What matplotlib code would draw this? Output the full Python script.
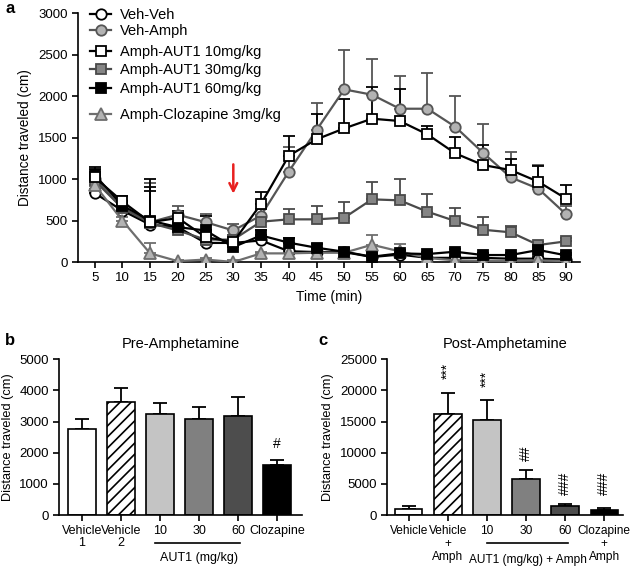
import numpy as np
import matplotlib
matplotlib.use("Agg")
from matplotlib import pyplot as plt

plt.rcParams['font.family'] = ['Liberation Sans', 'DejaVu Sans']
plt.rcParams['font.size'] = 9.5
plt.rcParams['hatch.linewidth'] = 1.2

# ---- panel a: time course ----
time = [5, 10, 15, 20, 25, 30, 35, 40, 45, 50, 55, 60, 65, 70, 75, 80, 85, 90]

veh_veh = [830, 620, 450, 420, 230, 230, 260, 130, 120, 120, 60, 90, 50, 50, 50, 40, 40, 30]
veh_veh_err = [50, 40, 400, 40, 40, 40, 40, 30, 30, 30, 20, 20, 20, 20, 20, 20, 20, 20]

veh_amph = [1000, 650, 480, 570, 480, 380, 560, 1090, 1590, 2080, 2016, 1847, 1847, 1630, 1317, 1020, 883, 575]
veh_amph_err = [80, 60, 470, 100, 100, 80, 80, 300, 330, 470, 430, 400, 430, 370, 350, 300, 280, 100]

aut10 = [1020, 730, 480, 530, 300, 240, 700, 1280, 1478, 1610, 1727, 1699, 1538, 1310, 1169, 1108, 967, 763]
aut10_err = [100, 60, 520, 80, 80, 60, 140, 240, 310, 350, 380, 390, 100, 200, 240, 130, 190, 170]

aut30 = [980, 650, 470, 380, 270, 270, 486, 514, 514, 534, 755, 743, 606, 494, 389, 358, 205, 249]
aut30_err = [80, 60, 60, 60, 60, 60, 80, 125, 157, 190, 210, 257, 217, 160, 150, 76, 40, 40]

aut60 = [1050, 680, 500, 420, 380, 180, 320, 233, 172, 124, 64, 104, 96, 124, 84, 84, 145, 80]
aut60_err = [100, 60, 400, 60, 180, 60, 60, 60, 40, 40, 40, 40, 30, 30, 30, 30, 30, 30]

cloz = [930, 500, 104, 10, 30, 0, 104, 104, 112, 112, 208, 128, 48, 20, 15, 15, 20, 10]
cloz_err = [60, 40, 130, 20, 20, 20, 20, 30, 30, 30, 120, 85, 20, 20, 20, 20, 20, 20]

# ---- panel b / c: bars ----
pre_means = [2762, 3638, 3233, 3094, 3180, 1616]
pre_err = [311, 450, 354, 385, 599, 150]
pre_labels = ["Vehicle\n1", "Vehicle\n2", "10", "30", "60", "Clozapine"]

post_means = [915, 16270, 15250, 5730, 1445, 800]
post_err = [530, 3370, 3160, 1440, 321, 370]
post_labels = ["Vehicle", "Vehicle\n+\nAmph", "10", "30", "60", "Clozapine\n+\nAmph"]
post_marks = ["", "***", "***", "##", "###", "###"]
post_mark_y = [0, 23120, 21840, 9950, 5140, 5140]

bar_colors = ["white", "white", "#c4c4c4", "#808080", "#4d4d4d", "black"]
bar_hatch = ["", "///", "", "", "", ""]

fig = plt.figure(figsize=(6.32, 5.67), dpi=100)

def clean(ax):
    ax.spines["top"].set_visible(False)
    ax.spines["right"].set_visible(False)
    ax.spines["left"].set_linewidth(1.2)
    ax.spines["bottom"].set_linewidth(1.2)
    ax.tick_params(direction="out", width=1.2, length=4)

# panel a
ax = fig.add_axes([0.1234, 0.5379, 0.7943, 0.4391])
clean(ax)
series = [
    (veh_amph, veh_amph_err, "Veh-Amph", "o", "#b3b3b3", "#555555"),
    (veh_veh, veh_veh_err, "Veh-Veh", "o", "white", "black"),
    (aut30, aut30_err, "Amph-AUT1 30mg/kg", "s", "#858585", "#4a4a4a"),
    (cloz, cloz_err, "Amph-Clozapine 3mg/kg", "^", "#b3b3b3", "#6e6e6e"),
    (aut60, aut60_err, "Amph-AUT1 60mg/kg", "s", "black", "black"),
    (aut10, aut10_err, "Amph-AUT1 10mg/kg", "s", "white", "black"),
]
handles = {}
for y, e, lab, m, fc, lc in series:
    ax.errorbar(time, y, yerr=[np.zeros(len(e)), e], fmt="none", ecolor=lc,
                elinewidth=1.3, capsize=4, capthick=1.3, zorder=2)
    h, = ax.plot(time, y, color=lc, lw=1.6, marker=m, markersize=7.5 if m != "^" else 8.5,
                 markerfacecolor=fc, markeredgecolor=lc, markeredgewidth=1.3, label=lab, zorder=3)
    handles[lab] = h

# legend entries placed one by one (uneven spacing as in the figure)
order = ["Veh-Veh", "Veh-Amph", "Amph-AUT1 10mg/kg", "Amph-AUT1 30mg/kg",
         "Amph-AUT1 60mg/kg", "Amph-Clozapine 3mg/kg"]
leg_px = [15, 31, 52, 70, 89, 115]
for k, py in zip(order, leg_px):
    fig.legend([handles[k]], [k], loc="center left",
               bbox_to_anchor=(86 / 632, 1 - py / 567),
               frameon=False, fontsize=10.5, handlelength=1.4, handletextpad=0.6,
               borderpad=0, borderaxespad=0.3)

ax.set_xlim(2, 92.5)
ax.set_ylim(0, 3000)
ax.set_xticks(time)
ax.set_yticks(range(0, 3001, 500))
ax.set_xlabel("Time (min)", fontsize=10)
ax.set_ylabel("Distance traveled (cm)", fontsize=9.8)
ax.annotate("", xy=(30, 790), xytext=(30, 1210),
            arrowprops=dict(arrowstyle="->", color="#e8201f", lw=1.8, mutation_scale=14))

x = np.arange(6)

# panel b
axb = fig.add_axes([0.0938, 0.0917, 0.3836, 0.2746])
clean(axb)
for i in range(6):
    axb.bar(x[i], pre_means[i], width=0.7, color=bar_colors[i], edgecolor="black",
            linewidth=1.2, hatch=bar_hatch[i], zorder=2)
axb.errorbar(x, pre_means, yerr=[np.zeros(6), pre_err], fmt="none", ecolor="black",
             elinewidth=1.3, capsize=5, capthick=1.3, zorder=1)
axb.set_xlim(-0.58, 5.63)
axb.set_ylim(0, 5000)
axb.set_yticks(range(0, 5001, 1000))
axb.set_xticks(x)
axb.set_xticklabels(pre_labels, linespacing=1.0, fontsize=9)
axb.set_ylabel("Distance traveled (cm)", fontsize=9.2)
axb.set_title("Pre-Amphetamine", fontsize=10.5, pad=8)
axb.text(5, 2280, "#", ha="center", va="center", fontsize=10)
tb = axb.get_xaxis_transform()
axb.plot([1.87, 4.05], [-0.182, -0.182], transform=tb, color="black", lw=1.2, clip_on=False)
axb.text(3.0, -0.276, "AUT1 (mg/kg)", transform=tb, ha="center", va="center", fontsize=9)

# panel c
axc = fig.add_axes([0.6128, 0.0917, 0.373, 0.2746])
clean(axc)
for i in range(6):
    axc.bar(x[i], post_means[i], width=0.7, color=bar_colors[i], edgecolor="black",
            linewidth=1.2, hatch=bar_hatch[i], zorder=2)
axc.errorbar(x, post_means, yerr=[np.zeros(6), post_err], fmt="none", ecolor="black",
             elinewidth=1.3, capsize=5, capthick=1.3, zorder=1)
axc.set_xlim(-0.55, 5.48)
axc.set_ylim(0, 25000)
axc.set_yticks(range(0, 25001, 5000))
axc.set_xticks(x)
axc.set_xticklabels(post_labels, linespacing=1.1, va="top", fontsize=8.6)
axc.set_ylabel("Distance traveled (cm)", fontsize=9.2)
axc.set_title("Post-Amphetamine", fontsize=10.5, pad=8)
for i in range(6):
    if post_marks[i]:
        axc.text(x[i], post_mark_y[i], post_marks[i], rotation=90, ha="center",
                 va="center", fontsize=10)
tc = axc.get_xaxis_transform()
axc.plot([1.99, 4.08], [-0.178, -0.178], transform=tc, color="black", lw=1.2, clip_on=False)
axc.text(3.05, -0.289, "AUT1 (mg/kg) + Amph", transform=tc, ha="center", va="center", fontsize=8.6)

fig.text(0.008, 0.985, "a", fontsize=12, fontweight="bold", va="center")
fig.text(0.008, 0.4, "b", fontsize=12, fontweight="bold", va="center")
fig.text(0.503, 0.4, "c", fontsize=12, fontweight="bold", va="center")

fig.savefig("out.png", dpi=100)
